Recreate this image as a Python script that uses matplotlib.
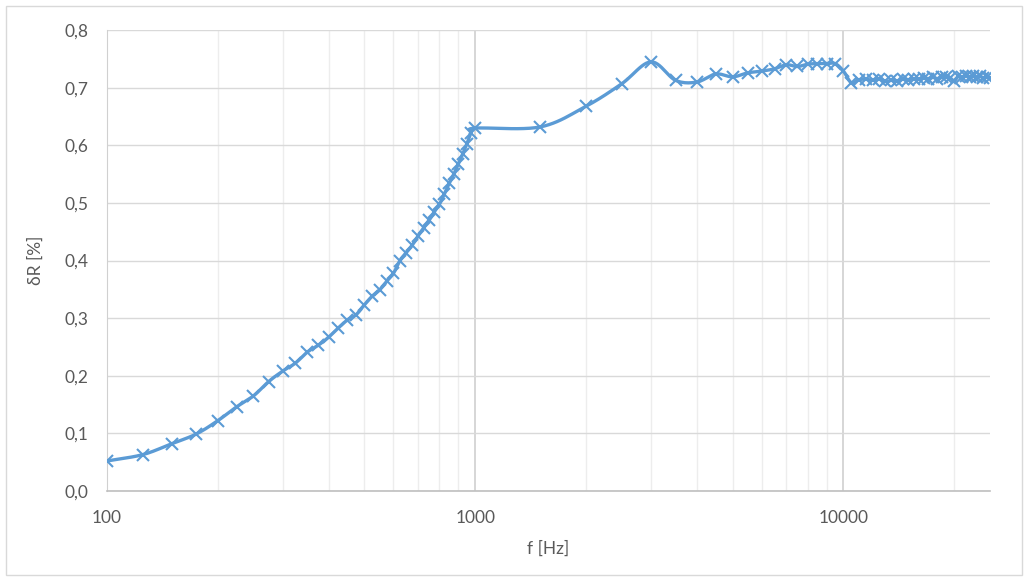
import numpy as np
import matplotlib.pyplot as plt
from matplotlib.patches import Rectangle
from matplotlib.ticker import FixedLocator, NullFormatter, FuncFormatter

# measured frequencies [Hz] and relative change of resistance [%]
freq_low = list(range(100, 1001, 25))
dr_low = [0.052, 0.063, 0.082, 0.099, 0.122, 0.146, 0.165, 0.190, 0.208, 0.222,
          0.241, 0.253, 0.267, 0.283, 0.297, 0.306, 0.323, 0.338, 0.349, 0.364,
          0.378, 0.400, 0.414, 0.427, 0.443, 0.457, 0.470, 0.485, 0.498, 0.516,
          0.534, 0.550, 0.568, 0.585, 0.603, 0.622, 0.630]

freq_high = list(range(1500, 25001, 500))
dr_high = [0.632, 0.668, 0.707, 0.745, 0.713, 0.710, 0.724, 0.719, 0.726, 0.729,
           0.733, 0.740, 0.737, 0.741, 0.742, 0.742, 0.742, 0.729, 0.709, 0.714,
           0.715, 0.713, 0.716, 0.711, 0.713, 0.712, 0.715, 0.714, 0.716, 0.715,
           0.717, 0.716, 0.718, 0.716, 0.718, 0.719, 0.717, 0.712, 0.720, 0.718,
           0.721, 0.719, 0.720, 0.718, 0.720, 0.717, 0.719, 0.717]

f = np.array(freq_low + freq_high, dtype=float)
dr = np.array(dr_low + dr_high)

LINE = '#5B9BD5'
TXT = '#595959'


def smooth(x, y, n=12):
    # Catmull-Rom spline through the points (x given in log10)
    px = np.concatenate([[2 * x[0] - x[1]], x, [2 * x[-1] - x[-2]]])
    py = np.concatenate([[2 * y[0] - y[1]], y, [2 * y[-1] - y[-2]]])
    xs, ys = [], []
    t = np.linspace(0, 1, n, endpoint=False)
    for i in range(1, len(px) - 2):
        for p, out in ((px, xs), (py, ys)):
            p0, p1, p2, p3 = p[i - 1], p[i], p[i + 1], p[i + 2]
            out.extend(0.5 * (2 * p1 + (-p0 + p2) * t
                              + (2 * p0 - 5 * p1 + 4 * p2 - p3) * t ** 2
                              + (-p0 + 3 * p1 - 3 * p2 + p3) * t ** 3))
    xs.append(x[-1])
    ys.append(y[-1])
    return np.array(xs), np.array(ys)


plt.rcParams['font.family'] = ['Lato', 'DejaVu Sans']

fig = plt.figure(figsize=(10.28, 5.81), dpi=100)
ax = fig.add_axes([0.104, 0.155, 0.859, 0.793])

lx, ly = smooth(np.log10(f), dr)
ax.plot(10 ** lx, ly, color=LINE, lw=2.4, solid_capstyle='round', zorder=3)
ax.plot(f, dr, ls='none', marker='x', ms=8, mew=1.5, color=LINE, zorder=4)

ax.set_xscale('log')
ax.set_xlim(100, 25000)
ax.set_ylim(0, 0.8)
ax.set_yticks(np.arange(0, 0.81, 0.1))
ax.yaxis.set_major_formatter(FuncFormatter(lambda v, p: f'{v:.1f}'.replace('.', ',')))
ax.xaxis.set_major_locator(FixedLocator([100, 1000, 10000]))
ax.xaxis.set_major_formatter(FuncFormatter(lambda v, p: f'{v:.0f}'))
minors = [m * d for d in (100, 1000, 10000) for m in range(2, 10)]
ax.xaxis.set_minor_locator(FixedLocator(minors))
ax.xaxis.set_minor_formatter(NullFormatter())

ax.grid(True, axis='y', which='major', color='#d9d9d9', lw=1.0)
ax.grid(True, axis='x', which='major', color='#cfcfcf', lw=1.2)
ax.grid(True, axis='x', which='minor', color='#ededed', lw=1.0)
ax.set_axisbelow(True)

for s in ('top', 'right'):
    ax.spines[s].set_visible(False)
ax.spines['left'].set_color('#d0d0d0')
ax.spines['bottom'].set_color('#bfbfbf')
ax.spines['bottom'].set_linewidth(1.2)

ax.tick_params(axis='both', which='both', length=0, labelsize=12.5, labelcolor=TXT)
ax.tick_params(axis='y', pad=13)
ax.tick_params(axis='x', pad=14)

ax.set_xlabel('f [Hz]', fontsize=12.5, color=TXT, labelpad=10)
ax.set_ylabel('δR [%]', fontsize=12.5, color=TXT, labelpad=15)

# chart border
fig.patches.append(Rectangle((0.006, 0.01), 0.988, 0.98, transform=fig.transFigure,
                             fill=False, edgecolor='#d9d9d9', lw=1.0))

fig.savefig('out.png', dpi=100)
